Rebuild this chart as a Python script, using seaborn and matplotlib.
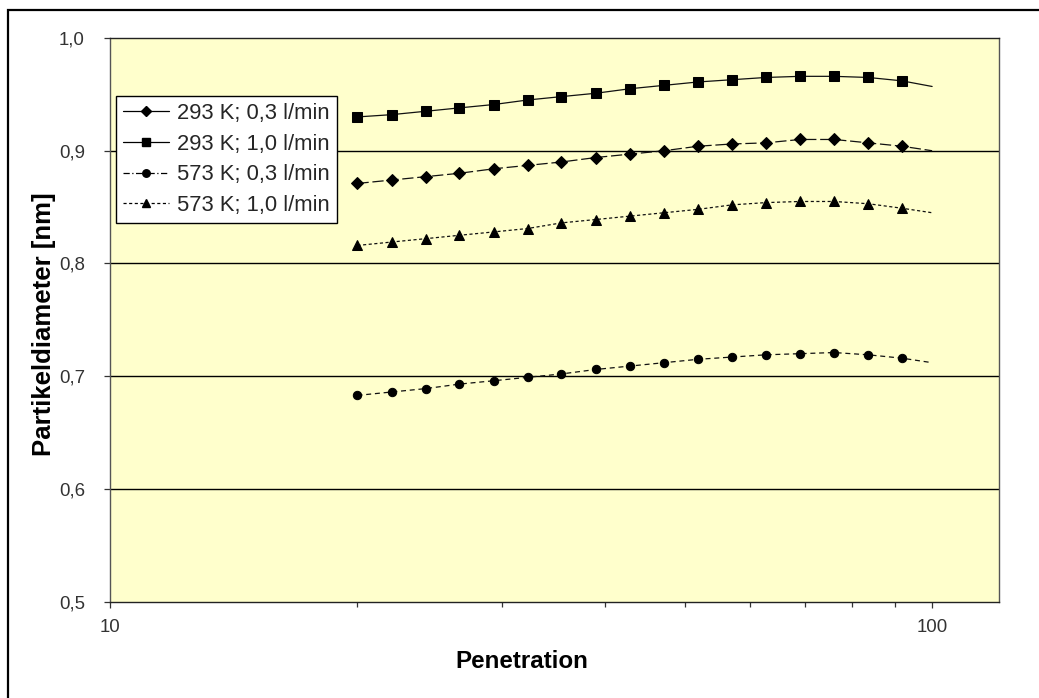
import numpy as np
import pandas as pd
import matplotlib
matplotlib.use("Agg")
import matplotlib.pyplot as plt
from matplotlib.lines import Line2D
from matplotlib.patches import Rectangle
from matplotlib.ticker import FixedLocator, NullFormatter, FixedFormatter
import seaborn as sns

# ---------------- data ----------------
penetration = [20, 22, 24.2, 26.6, 29.3, 32.2, 35.4, 39, 42.9, 47.2,
               51.9, 57.1, 62.8, 69.1, 76, 83.6, 91.9, 100]
d_293_03 = [0.871, 0.874, 0.877, 0.880, 0.884, 0.887, 0.890, 0.894, 0.897,
            0.900, 0.904, 0.906, 0.907, 0.910, 0.910, 0.907, 0.904, 0.900]
d_293_10 = [0.930, 0.932, 0.935, 0.938, 0.941, 0.945, 0.948, 0.951, 0.955,
            0.958, 0.961, 0.963, 0.965, 0.966, 0.966, 0.965, 0.962, 0.957]
d_573_03 = [0.683, 0.686, 0.689, 0.693, 0.696, 0.699, 0.702, 0.706, 0.709,
            0.712, 0.715, 0.717, 0.719, 0.720, 0.721, 0.719, 0.716, 0.712]
d_573_10 = [0.816, 0.819, 0.822, 0.825, 0.828, 0.831, 0.836, 0.839, 0.842,
            0.845, 0.848, 0.852, 0.854, 0.855, 0.855, 0.853, 0.849, 0.845]
series_labels = ["293 K; 0,3 l/min", "293 K; 1,0 l/min",
                 "573 K; 0,3 l/min", "573 K; 1,0 l/min"]
y_ticks = [0.5, 0.6, 0.7, 0.8, 0.9, 1.0]
y_ticklabels = ["0,5", "0,6", "0,7", "0,8", "0,9", "1,0"]
x_ticks = [10, 100]
x_ticklabels = ["10", "100"]

sns.set_theme(style="white")
plt.rcParams['font.family'] = ['Liberation Sans', 'DejaVu Sans']

W, H = 1039, 698
fig = plt.figure(figsize=(W / 100, H / 100), dpi=100)
fig.patch.set_facecolor("white")
ax_l, ax_r, ax_t, ax_b = 110, 999, 38, 601.7
ax = fig.add_axes([ax_l / W, 1 - ax_b / H, (ax_r - ax_l) / W, (ax_b - ax_t) / H])
ax.set_facecolor("#FFFFCC")

df = pd.DataFrame({
    "Penetration": penetration * 4,
    "d": d_293_03 + d_293_10 + d_573_03 + d_573_10,
    "series": sum([[s] * len(penetration) for s in series_labels], []),
})

line_dash = {
    series_labels[0]: (0, (9, 3)),
    series_labels[1]: "-",
    series_labels[2]: (0, (4, 3)),
    series_labels[3]: (0, (2.5, 2)),
}
markers = {series_labels[0]: "D", series_labels[1]: "s",
           series_labels[2]: "o", series_labels[3]: "^"}
msizes = {series_labels[0]: 6, series_labels[1]: 6.5,
          series_labels[2]: 6, series_labels[3]: 7}
nmark = len(penetration) - 1

for s in series_labels:
    sub = df[df["series"] == s]
    sns.lineplot(data=sub, x="Penetration", y="d", ax=ax, color="#111111",
                 linestyle=line_dash[s], linewidth=0.9, marker=markers[s],
                 markersize=msizes[s], markerfacecolor="black",
                 markeredgecolor="black", markevery=list(range(nmark)),
                 legend=False, zorder=3)

ax.set_xscale("log")
ax.set_xlim(10, 120.6)
ax.set_ylim(0.5, 1.0)

ax.xaxis.set_major_locator(FixedLocator(x_ticks))
ax.xaxis.set_major_formatter(FixedFormatter(x_ticklabels))
ax.xaxis.set_minor_locator(FixedLocator([20, 30, 40, 50, 60, 70, 80, 90]))
ax.xaxis.set_minor_formatter(NullFormatter())
ax.yaxis.set_major_locator(FixedLocator(y_ticks))
ax.yaxis.set_major_formatter(FixedFormatter(y_ticklabels))

for y in y_ticks[1:-1]:
    ax.axhline(y, color="black", lw=1.0, zorder=1)

ax.tick_params(axis="both", which="major", direction="out", length=4.5,
               width=0.9, color="#333333", labelsize=13.4, labelcolor="#333333",
               left=True, bottom=True, top=False, right=False)
ax.tick_params(axis="y", pad=13.5)
ax.tick_params(axis="x", pad=8)
ax.tick_params(axis="x", which="minor", direction="out", length=3.5,
               width=0.9, color="#333333", bottom=True, top=False)

for side in ["left", "right", "top", "bottom"]:
    ax.spines[side].set_visible(True)
    ax.spines[side].set_linewidth(1.0)
ax.spines["left"].set_color("#555555")
ax.spines["right"].set_color("#555555")
ax.spines["bottom"].set_color("#222222")
ax.spines["top"].set_color("#222222")

ax.set_xlabel("Penetration", fontsize=17.4, fontweight="bold", color="black")
ax.set_ylabel("Partikeldiameter [nm]", fontsize=18.5, fontweight="bold", color="black")
ax.xaxis.set_label_coords((521.7 - ax_l) / (ax_r - ax_l), (ax_b - 661) / (ax_b - ax_t))
ax.xaxis.label.set_va("center")
ax.yaxis.set_label_coords((44 - ax_l) / (ax_r - ax_l), (ax_b - 324) / (ax_b - ax_t))
ax.yaxis.label.set_va("center")

leg_styles = ["-", "-", (0, (5, 2, 1, 2)), (0, (2.5, 2))]
handles = [Line2D([0], [0], color="black", lw=0.9, linestyle=leg_styles[i],
                  marker=markers[s], markersize=msizes[s] * 0.9,
                  markerfacecolor="black", markeredgecolor="black")
           for i, s in enumerate(series_labels)]
leg = ax.legend(handles, series_labels, loc="upper left",
                bbox_to_anchor=((115.7 - ax_l) / (ax_r - ax_l), (ax_b - 95.7) / (ax_b - ax_t)),
                borderaxespad=0, fontsize=15.8, frameon=True, fancybox=False,
                framealpha=1, edgecolor="black", facecolor="white",
                handlelength=2.1, handletextpad=0.38, borderpad=0.33,
                labelspacing=0.44)
leg.get_frame().set_linewidth(1.0)
leg.set_zorder(5)

# outer chart frame (right/bottom beyond the image)
fig.patches.append(Rectangle((8 / W, -0.2), 1.5, 1 - 10 / H + 0.2,
                             transform=fig.transFigure, fill=False,
                             edgecolor="black", lw=1.6, clip_on=False))

fig.savefig("out.png", dpi=100)
